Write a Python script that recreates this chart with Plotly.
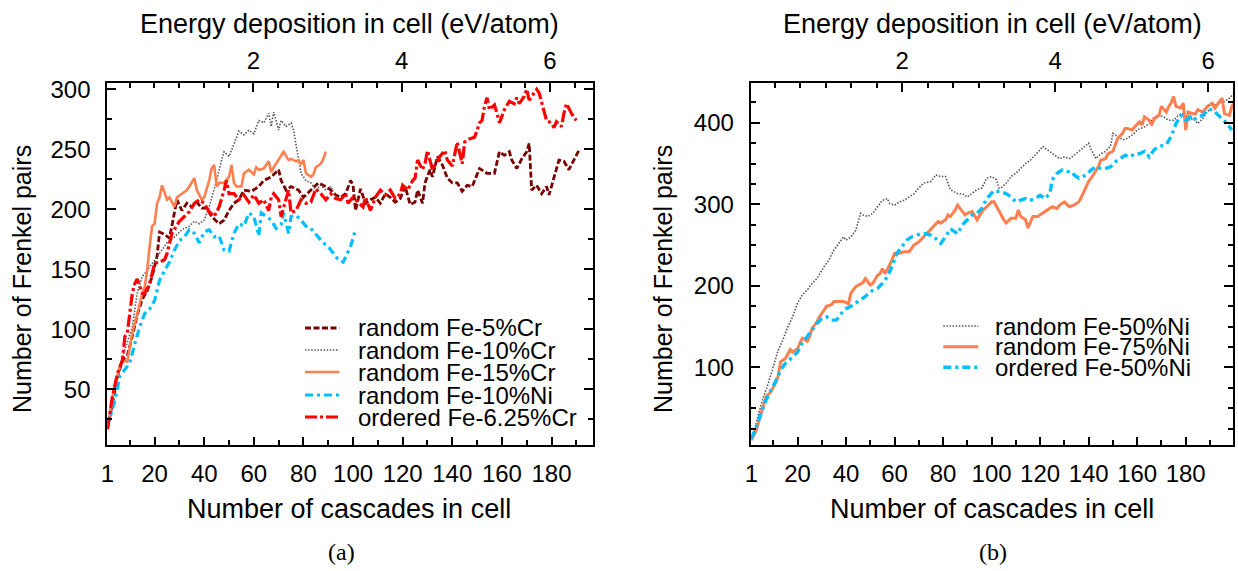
import plotly.graph_objects as go

# ---------------- data (cascades, Frenkel pairs) ----------------
# panel (a)
fecr5 = [(1,17),(3,40),(5,60),(7,74),(9,78),(11,94),(13,112),(15,125),(17,132),(19,144),(21,161),(22,181),(24,179),(26,176),(27,186),(29,208),(31,199),(33,205),(35,202),(37,206),(39,201),(41,201),(43,194),(46,188),(48,191),(50,199),(52,205),(54,208),(56,216),(59,215),(62,219),(64,224),(67,227),(70,233),(71,224),(73,216),(75,219),(78,216),(80,210),(83,216),(86,222),(89,219),(91,216),(93,212),(95,210),(97,213),(99,224),(100,220),(101,199),(103,217),(105,205),(107,208),(109,210),(111,205),(113,213),(115,210),(117,206),(119,209),(121,219),(123,204),(125,206),(126,216),(128,205),(129,222),(131,233),(132,227),(134,244),(136,237),(138,226),(140,222),(142,222),(144,215),(146,220),(148,219),(151,234),(154,230),(157,230),(159,248),(161,245),(163,248),(164,241),(166,234),(168,242),(170,248),(171,255),(172,216),(174,220),(176,213),(178,219),(179,212),(181,227),(183,241),(185,240),(187,233),(189,241),(191,249)]
fecr10 = [(1,19),(3,42),(5,62),(8,83),(11,102),(13,130),(15,144),(17,149),(20,158),(23,166),(25,172),(28,177),(31,183),(34,186),(36,190),(38,188),(40,191),(42,202),(44,216),(45,224),(47,241),(48,248),(50,244),(52,255),(54,265),(56,262),(58,266),(60,263),(62,274),(64,272),(66,280),(67,269),(68,281),(70,266),(71,274),(73,269),(75,272),(76,266),(78,244),(79,230),(81,224),(83,222),(85,216),(87,220),(89,216),(91,219),(92,215)]
fecr15 = [(1,16),(3,44),(6,69),(7,74),(9,73),(11,97),(13,113),(15,130),(16,135),(17,149),(18,169),(19,186),(20,188),(21,205),(22,210),(23,220),(25,208),(26,210),(28,202),(29,210),(31,213),(33,216),(34,219),(36,226),(37,216),(39,208),(40,210),(42,224),(43,234),(44,237),(45,219),(46,222),(48,222),(50,227),(51,237),(52,222),(53,219),(55,219),(56,230),(58,233),(60,229),(61,235),(62,233),(64,234),(66,240),(67,231),(68,235),(70,241),(71,245),(72,248),(74,241),(75,242),(77,240),(78,241),(79,238),(80,241),(81,230),(83,227),(84,229),(85,235),(87,238),(88,242),(89,248)]
feni10 = [(1,19),(4,41),(6,61),(8,66),(10,72),(12,88),(14,102),(16,113),(18,117),(20,124),(22,141),(24,149),(26,156),(28,166),(30,174),(32,177),(34,183),(36,180),(38,172),(40,181),(42,183),(44,177),(46,178),(48,166),(50,165),(52,180),(54,188),(56,186),(58,197),(60,194),(62,178),(63,197),(65,194),(67,191),(69,184),(71,187),(72,197),(74,180),(75,194),(77,195),(79,191),(81,186),(83,184),(86,177),(88,172),(90,169),(92,163),(94,158),(96,156),(97,160),(99,169),(101,183)]
ordcr625 = [(1,17),(3,44),(5,63),(7,74),(8,94),(9,97),(11,130),(12,138),(13,142),(15,130),(16,130),(18,138),(20,155),(22,156),(24,158),(25,163),(27,180),(28,183),(30,190),(32,194),(34,198),(36,205),(38,208),(40,205),(42,198),(44,194),(46,202),(48,216),(49,224),(50,213),(52,213),(54,208),(56,212),(58,206),(60,212),(62,205),(64,208),(66,199),(67,210),(68,213),(70,208),(71,194),(73,210),(74,216),(75,197),(77,199),(79,208),(81,205),(83,206),(85,217),(87,213),(89,208),(91,213),(93,209),(95,208),(97,213),(98,205),(100,210),(102,206),(104,202),(105,210),(107,199),(109,210),(111,216),(113,212),(115,216),(117,209),(119,213),(120,220),(122,216),(124,224),(125,226),(126,241),(128,233),(129,238),(130,249),(132,233),(134,241),(135,244),(137,249),(138,241),(140,236),(141,247),(142,256),(144,238),(145,256),(146,258),(149,260),(151,272),(152,274),(153,286),(154,293),(155,283),(157,287),(158,280),(159,272),(161,283),(162,286),(163,290),(165,288),(166,293),(167,288),(169,294),(170,300),(171,291),(173,297),(174,300),(175,297),(177,280),(178,274),(180,272),(181,268),(182,273),(184,269),(185,280),(186,288),(188,280),(189,277),(190,274)]

# panel (b)
feni50 = [(2,19),(4,44),(6,64),(8,81),(10,101),(12,121),(14,134),(16,150),(18,162),(20,179),(22,189),(24,195),(26,203),(28,209),(31,224),(33,232),(35,244),(37,252),(39,260),(40,256),(42,260),(44,268),(46,289),(47,287),(49,285),(51,289),(53,297),(55,305),(57,307),(58,301),(60,299),(62,303),(64,305),(66,309),(68,313),(70,320),(72,326),(75,328),(77,336),(79,334),(81,334),(82,326),(83,318),(86,313),(88,313),(90,309),(92,313),(94,318),(96,320),(98,332),(100,334),(102,330),(103,320),(104,320),(106,326),(108,334),(110,338),(112,344),(114,350),(116,354),(118,360),(120,367),(121,371),(123,367),(125,362),(128,356),(130,358),(132,356),(134,360),(136,365),(138,369),(140,375),(141,367),(143,356),(145,362),(147,365),(149,371),(150,387),(152,383),(154,379),(156,381),(158,385),(160,391),(163,395),(165,399),(167,407),(169,409),(171,407),(173,403),(175,403),(177,409),(179,411),(181,403),(183,405),(185,399),(187,405),(189,414),(191,418),(193,424),(196,426),(198,430),(200,436)]
feni75 = [(1,11),(3,23),(5,44),(7,64),(9,70),(11,81),(12,89),(13,107),(15,111),(16,117),(17,122),(18,119),(20,123),(21,130),(22,136),(24,132),(25,138),(26,148),(28,156),(29,162),(31,170),(32,175),(34,177),(35,181),(37,181),(39,181),(41,178),(42,191),(44,199),(46,203),(47,204),(48,209),(50,201),(51,203),(53,213),(54,215),(55,221),(56,215),(57,220),(59,232),(60,240),(62,240),(64,242),(66,242),(68,250),(70,254),(72,260),(74,266),(76,273),(78,279),(79,277),(81,281),(82,287),(83,285),(85,293),(86,299),(88,291),(89,287),(90,289),(92,291),(94,281),(96,291),(98,297),(100,303),(101,303),(102,297),(104,285),(105,281),(106,277),(108,283),(110,283),(111,293),(112,285),(114,281),(115,271),(117,285),(119,285),(121,289),(123,293),(125,297),(127,295),(128,299),(130,303),(132,297),(134,299),(136,303),(137,309),(139,322),(140,328),(141,332),(143,342),(144,346),(145,354),(147,356),(148,362),(150,365),(151,373),(152,381),(154,387),(155,393),(156,393),(158,391),(159,395),(161,401),(162,397),(163,407),(165,403),(166,397),(167,405),(169,409),(170,420),(172,413),(173,420),(174,424),(175,432),(176,420),(178,418),(179,424),(180,391),(181,413),(183,411),(184,411),(185,416),(187,413),(189,420),(191,424),(192,418),(194,426),(195,430),(196,411),(198,409),(199,420),(200,424)]
ordni50 = [(1,13),(3,27),(5,44),(7,60),(9,72),(11,83),(13,97),(15,105),(18,113),(20,119),(22,130),(24,138),(26,146),(28,154),(30,160),(32,162),(34,158),(36,158),(38,166),(40,172),(42,175),(44,179),(46,183),(48,187),(50,193),(53,197),(55,203),(57,211),(59,224),(61,240),(63,248),(65,256),(67,260),(69,262),(71,264),(73,264),(75,262),(77,258),(79,252),(81,260),(83,270),(86,264),(88,275),(90,281),(92,287),(94,289),(96,295),(98,307),(100,313),(101,317),(104,315),(106,313),(108,309),(110,303),(112,305),(114,307),(116,305),(118,307),(120,311),(122,307),(124,313),(125,330),(127,338),(129,342),(131,340),(133,340),(134,336),(136,332),(139,336),(141,342),(143,346),(145,344),(147,344),(149,346),(151,352),(153,356),(155,360),(157,358),(159,362),(161,362),(163,365),(165,358),(167,367),(169,371),(172,373),(174,383),(175,391),(176,399),(178,409),(179,407),(180,403),(182,407),(183,403),(185,407),(187,409),(189,416),(191,416),(193,411),(195,405),(197,399),(199,391)]

x_ticks = [1, 20, 40, 60, 80, 100, 120, 140, 160, 180]
x_minor = [10, 30, 50, 70, 90, 110, 130, 150, 170, 190]
ya_ticks = [50, 100, 150, 200, 250, 300]
yb_ticks = [100, 200, 300, 400]
e_ticks = [2, 4, 6]

names_a = ["random Fe-5%Cr", "random Fe-10%Cr", "random Fe-15%Cr", "random Fe-10%Ni", "ordered Fe-6.25%Cr"]
names_b = ["random Fe-50%Ni", "random Fe-75%Ni", "ordered Fe-50%Ni"]

# ---------------- styles ----------------
W, H = 1238, 571
FONT = "Liberation Sans, Arial, sans-serif"
DARKRED, GRAY, CORAL, BLUE, RED = "#7a0000", "#555555", "#ff7f50", "#00bfff", "#ff0000"
style_a = [
    dict(color=DARKRED, width=2.8, dash="6px,2.5px"),
    dict(color=GRAY, width=1.6, dash="1.5px,1.6px"),
    dict(color=CORAL, width=2.6),
    dict(color=BLUE, width=3.2, dash="8px,4px,3px,4px"),
    dict(color=RED, width=3.2, dash="12px,3px,3px,3px"),
]
style_b = [
    dict(color=GRAY, width=1.6, dash="1.5px,1.6px"),
    dict(color=CORAL, width=3.0),
    dict(color=BLUE, width=3.4, dash="8px,4px,3px,4px"),
]

def px(xp):
    return xp / W

def py(yp):
    return 1 - yp / H

fig = go.Figure()
for ser, nm, st in zip([fecr5, fecr10, fecr15, feni10, ordcr625], names_a, style_a):
    fig.add_trace(go.Scatter(x=[p[0] for p in ser], y=[p[1] for p in ser], mode="lines",
                             line=st, name=nm, xaxis="x", yaxis="y", showlegend=False))
for ser, nm, st in zip([feni50, feni75, ordni50], names_b, style_b):
    fig.add_trace(go.Scatter(x=[p[0] for p in ser], y=[p[1] for p in ser], mode="lines",
                             line=st, name=nm, xaxis="x2", yaxis="y2", showlegend=False))
# register top energy axes
fig.add_trace(go.Scatter(x=[], y=[], xaxis="x3", yaxis="y", showlegend=False))
fig.add_trace(go.Scatter(x=[], y=[], xaxis="x4", yaxis="y2", showlegend=False))

dom_a = [px(107.3), px(592.7)]
dom_b = [px(750.7), px(1233)]
dom_y = [py(445), py(83.3)]
tickfont = dict(family=FONT, size=24, color="black")
common = dict(showline=True, linecolor="black", linewidth=2, ticks="inside", tickcolor="black",
              tickwidth=1.5, showgrid=False, zeroline=False, tickfont=tickfont, automargin=False)
minor_x = dict(tickvals=x_minor, ticks="inside", ticklen=5, tickcolor="black", tickwidth=1.5)
minor_y = dict(dtick=25, tick0=0, ticks="inside", ticklen=5, tickcolor="black", tickwidth=1.5)
minor_e = dict(dtick=1 / 3, tick0=0, ticks="inside", ticklen=5, tickcolor="black", tickwidth=1.5)

fig.update_layout(
    template="none",
    width=W, height=H, margin=dict(l=0, r=0, t=0, b=0, pad=0, autoexpand=False),
    paper_bgcolor="white", plot_bgcolor="white", showlegend=False,
    xaxis=dict(domain=dom_a, anchor="y", range=[0.93, 196.6], tickvals=x_ticks, ticklen=8,
               mirror=True, ticklabelstandoff=6, minor=minor_x, **common),
    yaxis=dict(domain=dom_y, anchor="x", range=[3.6, 305], tickvals=ya_ticks, ticklen=9,
               mirror="ticks", ticklabelstandoff=10, minor=minor_y, **common),
    xaxis3=dict(overlaying="x", side="top", anchor="y", range=[0.931 / 29.9, 196.6 / 29.9],
                tickvals=e_ticks, ticklen=9, ticklabelstandoff=3, minor=minor_e, **common),
    xaxis2=dict(domain=dom_b, anchor="y2", range=[0.7, 199.5], tickvals=x_ticks, ticklen=8,
                mirror=True, ticklabelstandoff=6, minor=minor_x, **common),
    yaxis2=dict(domain=dom_y, anchor="x2", range=[5, 448.3], tickvals=yb_ticks, ticklen=9,
                mirror="ticks", ticklabelstandoff=10, minor=minor_y, **common),
    xaxis4=dict(overlaying="x2", side="top", anchor="y2", range=[0.7 / 31.55, 199.5 / 31.55],
                tickvals=e_ticks, ticklen=9, ticklabelstandoff=3, minor=minor_e, **common),
)

ann = []
shapes = []
htitle_font = dict(family=FONT, size=27, color="black")
vtitle_font = dict(family=FONT, size=25, color="black")
for cx, yl_x in [(349, 22), (992, 663)]:
    ann.append(dict(text="Energy deposition in cell (eV/atom)", x=px(cx), y=py(24), xref="paper", yref="paper",
                    showarrow=False, font=htitle_font, xanchor="center", yanchor="middle"))
    ann.append(dict(text="Number of cascades in cell", x=px(cx), y=py(509), xref="paper", yref="paper",
                    showarrow=False, font=htitle_font, xanchor="center", yanchor="middle"))
    ann.append(dict(text="Number of Frenkel pairs", x=px(yl_x), y=py(279), xref="paper", yref="paper",
                    showarrow=False, font=vtitle_font, xanchor="center", yanchor="middle", textangle=-90))
for lab, cx in [("(a)", 341), ("(b)", 993)]:
    ann.append(dict(text=lab, x=px(cx), y=py(552), xref="paper", yref="paper", showarrow=False,
                    font=dict(family="Liberation Serif, Times New Roman, serif", size=24, color="black"),
                    xanchor="center", yanchor="middle"))

# legends
for names, styles, rows, x0, x1, xt in [
    (names_a, style_a, [328, 350, 372, 395, 417], 305, 339.3, 356),
    (names_b, style_b, [326, 346.7, 367.3], 943.3, 978.3, 993.3),
]:
    for nm, st, ry in zip(names, styles, rows):
        shapes.append(dict(type="line", xref="paper", yref="paper", x0=px(x0), x1=px(x1), y0=py(ry), y1=py(ry),
                           line=dict(color=st["color"], width=st["width"], dash=st.get("dash", "solid"))))
        ann.append(dict(text=nm, x=px(xt), y=py(ry), xref="paper", yref="paper", showarrow=False,
                        font=dict(family=FONT, size=24, color="black"), xanchor="left", yanchor="middle"))

fig.update_layout(annotations=ann, shapes=shapes)
fig.write_html("out.html")
